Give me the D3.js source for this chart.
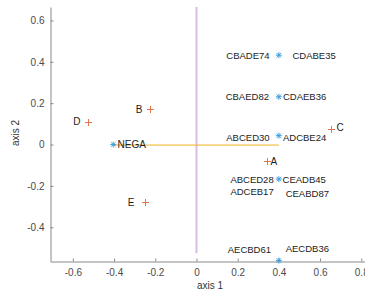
<!DOCTYPE html>
<html>
<head>
<meta charset="utf-8">
<script src="https://cdn.jsdelivr.net/npm/d3@7"></script>
<style>
body { margin: 0; background: #fff; }
svg text { font-family: "Liberation Sans", Arial, Helvetica, sans-serif; }
</style>
</head>
<body>
<div id="chart"></div>
<script>
// letters (plus markers)
var letterNames = ["A", "B", "C", "D", "E"];
var letterX = [0.344, -0.227, 0.653, -0.528, -0.250];
var letterY = [-0.078, 0.171, 0.073, 0.110, -0.279];

// permutation points (asterisk markers)
var starNames = ["NEGA", "P1", "P2", "P3", "P4", "P5"];
var starX = [-0.404, 0.40, 0.40, 0.40, 0.40, 0.40];
var starY = [0, 0.432, 0.231, 0.043, -0.167, -0.561];

// text annotations, in axis units
var annoText = ["D", "B", "E", "NEGA", "A", "C",
    "CBADE74", "CDABE35", "CBAED82", "CDAEB36", "ABCED30", "ADCBE24",
    "ABCED28", "CEADB45", "ADCEB17", "CEABD87", "AECBD61", "AECDB36"];
var annoX = [-0.563, -0.262, -0.301, -0.383, 0.360, 0.680,
    0.355, 0.466, 0.352, 0.420, 0.355, 0.420,
    0.375, 0.418, 0.375, 0.433, 0.362, 0.433];
var annoY = [0.110, 0.171, -0.279, 0, -0.080, 0.083,
    0.430, 0.430, 0.232, 0.232, 0.031, 0.031,
    -0.168, -0.169, -0.226, -0.236, -0.510, -0.505];
var annoSide = ["end", "end", "end", "start", "start", "start",
    "end", "start", "end", "start", "end", "start",
    "end", "start", "end", "start", "end", "start"];

// reference lines
var hLine = {x0: -0.404, x1: 0.40, y: 0};
var vLine = {x: 0, y0: -0.525, y1: 0.665};

var xTicks = [-0.6, -0.4, -0.2, 0, 0.2, 0.4, 0.6, 0.8];
var yTicks = [-0.4, -0.2, 0, 0.2, 0.4, 0.6];

var W = 365, H = 291;
var svg = d3.select("#chart").append("svg")
    .attr("width", W).attr("height", H);

var x = d3.scaleLinear().domain([-0.711, 0.84]).range([50, 369.5]);
var y = d3.scaleLinear().domain([-0.563, 0.665]).range([261, 7]);

var axisColor = "#8a8a8a", textColor = "#4a4a4a";

// vertical purple line
svg.append("line")
    .attr("x1", x(vLine.x)).attr("x2", x(vLine.x))
    .attr("y1", y(vLine.y0)).attr("y2", y(vLine.y1))
    .attr("stroke", "#d8bde2").attr("stroke-width", 2);

// horizontal yellow line
svg.append("line")
    .attr("x1", x(hLine.x0)).attr("x2", x(hLine.x1))
    .attr("y1", y(hLine.y) + 0.5).attr("y2", y(hLine.y) + 0.5)
    .attr("stroke", "#EDB120").attr("stroke-width", 1);

// axes
var fmt = function(d){ return String(+d.toFixed(1)); };
var xAxis = d3.axisBottom(x).tickValues(xTicks).tickSizeInner(-3).tickSizeOuter(0)
    .tickPadding(7).tickFormat(fmt);
var yAxis = d3.axisLeft(y).tickValues(yTicks).tickSizeInner(-3).tickSizeOuter(0)
    .tickPadding(6).tickFormat(fmt);

var gx = svg.append("g").attr("transform", "translate(0," + 261.5 + ")").call(xAxis);
var gy = svg.append("g").attr("transform", "translate(" + 50.5 + ",0)").call(yAxis);
[gx, gy].forEach(function(g){
    g.select(".domain").attr("stroke", axisColor);
    g.selectAll(".tick line").attr("stroke", axisColor);
    g.selectAll(".tick text").attr("fill", textColor)
        .style("font-family", "Liberation Sans, Arial, sans-serif").style("font-size", "10px");
});

svg.append("text").attr("x", 210).attr("y", 289)
    .attr("text-anchor", "middle").attr("fill", "#333")
    .style("font-size", "10px").text("axis 1");
svg.append("text")
    .attr("transform", "translate(19,133) rotate(-90)")
    .attr("text-anchor", "middle").attr("fill", "#333")
    .style("font-size", "10px").text("axis 2");

// plus markers
svg.selectAll(".plus").data(letterNames).enter().append("path")
    .attr("class", "plus")
    .attr("transform", function(d, i){ return "translate(" + (Math.round(x(letterX[i])) + 0.5) + "," + (Math.round(y(letterY[i])) + 0.5) + ")"; })
    .attr("d", "M-3.5,0H3.5M0,-3.5V3.5")
    .attr("stroke", "#e2764f").attr("stroke-width", 1).attr("fill", "none");

// asterisk markers
svg.selectAll(".star").data(starNames).enter().append("path")
    .attr("class", "star")
    .attr("transform", function(d, i){ return "translate(" + x(starX[i]) + "," + y(starY[i]) + ")"; })
    .attr("d", "M-3,0H3M0,-3V3M-2.2,-2.2L2.2,2.2M-2.2,2.2L2.2,-2.2")
    .attr("stroke", "#3f9fdc").attr("stroke-width", 1).attr("fill", "none");

// labels
svg.selectAll(".anno").data(annoText).enter().append("text")
    .attr("class", "anno")
    .attr("x", function(d, i){ return x(annoX[i]); })
    .attr("y", function(d, i){ return y(annoY[i]); })
    .attr("dy", "0.35em")
    .attr("text-anchor", function(d, i){ return annoSide[i]; })
    .attr("fill", "#222")
    .style("font-size", function(d){ return d.length > 4 ? "9.5px" : "10px"; })
    .text(function(d){ return d; });
</script>
</body>
</html>
